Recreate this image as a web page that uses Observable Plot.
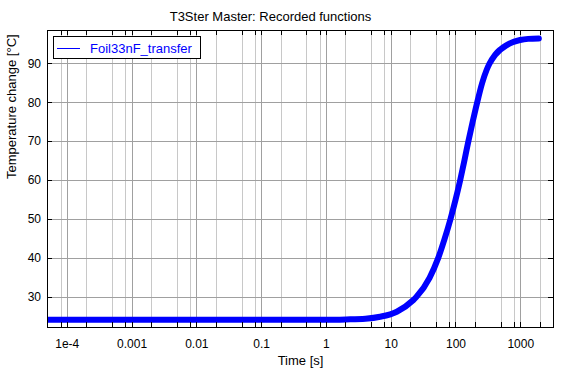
<!DOCTYPE html>
<html>
<head>
<meta charset="utf-8">
<script src="https://cdn.jsdelivr.net/npm/d3@7"></script>
<script src="https://cdn.jsdelivr.net/npm/@observablehq/plot@0.6"></script>
<style>
  html, body { margin: 0; padding: 0; background: #fff; }
  #wrap { position: relative; width: 562px; height: 369px; font-family: 'Liberation Sans', Arial, sans-serif; }
  #legend { position: absolute; left: 53px; top: 36px; width: 148px; height: 23px; box-sizing: border-box;
            border: 1px solid #000; background: #fff; }
  #legend .swatch { position: absolute; left: 3px; top: 11px; width: 23px; height: 1px; background: #0000ff; }
  #legend .name { position: absolute; left: 36px; top: 5px; font-size: 13px; line-height: 13px; color: #0000ff; white-space: nowrap; }
</style>
</head>
<body>
<div id="wrap"></div>
<script>
// ---- data ----
const seriesName = "Foil33nF_transfer";
const times = [4.95e-5, 1e-4, 1e-3, 1e-2, 0.1, 1, 2, 4, 6.73, 12.2, 22.0, 24.2, 39.1, 52.9, 66.7, 81.9, 98.2, 115.7, 134.3, 154.9, 180.4, 211.8, 252.9, 296.8, 328, 402, 608, 976, 1300, 1900];
const temps = [24.2, 24.2, 24.2, 24.2, 24.2, 24.2, 24.3, 24.5, 25.0, 26.3, 29.3, 30.0, 35.0, 40.0, 45.0, 50.0, 55.0, 60.0, 65.0, 70.0, 75.0, 80.0, 85.0, 88.4, 90.0, 92.3, 94.8, 96.1, 96.4, 96.5];

const xTickValues = [1e-4, 1e-3, 1e-2, 1e-1, 1, 10, 100, 1000];
const xTickLabels = ["1e-4", "0.001", "0.01", "0.1", "1", "10", "100", "1000"];
const xGridMinor = [5e-5, 8e-5, 2e-4, 5e-4, 8e-4, 2e-3, 5e-3, 8e-3, 0.02, 0.05, 0.08, 0.2, 0.5, 0.8,
                    2, 5, 8, 20, 50, 80, 200, 500, 800, 2000];
const yTicks = [30, 40, 50, 60, 70, 80, 90];
const xDomain = [4.95e-5, 3200];
const yDomain = [22.24, 98.55];

const titleText = "T3Ster Master: Recorded functions";
const xLabel = "Time [s]";
const yLabel = "Temperature change [°C]";

const data = times.map((t, i) => ({t, v: temps[i]}));
const xAllTicks = [...xTickValues, ...xGridMinor];
const crisp = {shapeRendering: "crispEdges"};

const chart = Plot.plot({
  width: 562,
  height: 369,
  marginLeft: 47,
  marginRight: 9,
  marginTop: 30,
  marginBottom: 42,
  style: {fontFamily: "'Liberation Sans', Arial, sans-serif", fontSize: "12px", background: "white", color: "black"},
  x: {type: "log", domain: xDomain, axis: null, label: null},
  y: {domain: yDomain, axis: null, label: null},
  marks: [
    Plot.ruleX(xGridMinor, {x: d => d, stroke: "#c8c8c8", ...crisp}),
    Plot.ruleX(xTickValues, {x: d => d, stroke: "#a0a0a0", ...crisp}),
    Plot.ruleY(yTicks, {y: d => d, stroke: "#a0a0a0", ...crisp}),
    Plot.line(data, {x: "t", y: "v", stroke: "#0000ff", strokeWidth: 6, curve: "monotone-x", clip: true}),
    Plot.tickX(xAllTicks, {x: d => d, stroke: "black", insetTop: 292, ...crisp}),
    Plot.tickX(xAllTicks, {x: d => d, stroke: "black", insetBottom: 292, ...crisp}),
    Plot.tickY(yTicks, {y: d => d, stroke: "black", insetRight: 501, ...crisp}),
    Plot.tickY(yTicks, {y: d => d, stroke: "black", insetLeft: 501, ...crisp}),
    Plot.frame({stroke: "black", ...crisp}),
    Plot.axisX(xTickValues, {tickSize: 0, tickPadding: 12, fontSize: 12, label: null,
      tickFormat: d => xTickLabels[xTickValues.indexOf(d)]}),
    Plot.axisY(yTicks, {tickSize: 0, tickPadding: 6.5, fontSize: 12, label: null}),
    Plot.text([titleText], {frameAnchor: "top", dx: -30, dy: -10, lineAnchor: "bottom", fontSize: 13}),
    Plot.text([xLabel], {frameAnchor: "bottom", dy: 37.5, lineAnchor: "bottom", fontSize: 13}),
    Plot.text([yLabel], {frameAnchor: "left", dx: -36, rotate: -90, lineAnchor: "middle", fontSize: 13})
  ]
});

const wrap = document.getElementById("wrap");
wrap.appendChild(chart);
const legend = document.createElement("div");
legend.id = "legend";
legend.innerHTML = `<div class="swatch"></div><span class="name"></span>`;
legend.querySelector(".name").textContent = seriesName;
wrap.appendChild(legend);
</script>
</body>
</html>
